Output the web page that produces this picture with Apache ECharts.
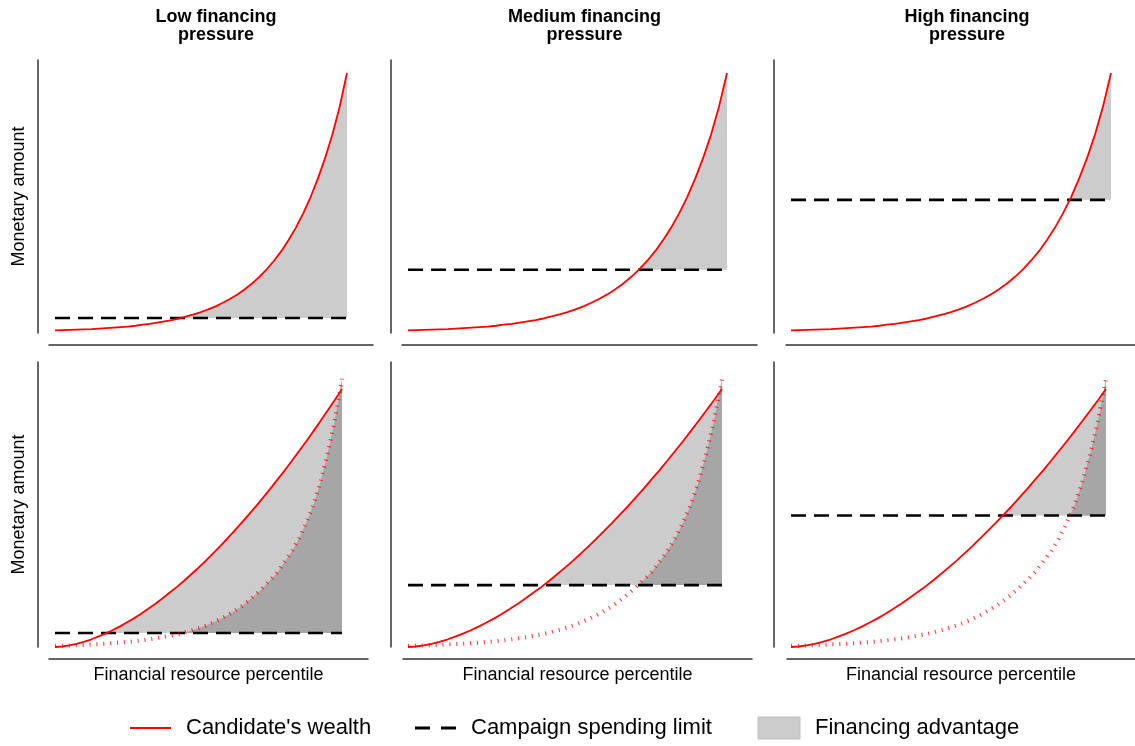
<!DOCTYPE html>
<html><head><meta charset="utf-8">
<script src="https://cdn.jsdelivr.net/npm/echarts@6/dist/echarts.min.js"></script>
<style>html,body{margin:0;padding:0;background:#fff}#c{width:1135px;height:746px}</style>
</head><body><div id="c"></div>
<script>
// ---------------- data ----------------
const percentile = [0, 0.025, 0.05, 0.075, 0.1, 0.125, 0.15, 0.175, 0.2, 0.225, 0.25, 0.275, 0.3, 0.325, 0.35, 0.375, 0.4, 0.425, 0.45, 0.475, 0.5, 0.525, 0.55, 0.575, 0.6, 0.625, 0.65, 0.675, 0.7, 0.725, 0.75, 0.775, 0.8, 0.825, 0.85, 0.875, 0.9, 0.925, 0.95, 0.975, 1];
// top row: candidate's wealth (steep curve)
const wealthTop = [0.006, 0.007, 0.008, 0.009, 0.010, 0.011, 0.013, 0.015, 0.017, 0.019, 0.021, 0.024, 0.028, 0.031, 0.036, 0.041, 0.046, 0.052, 0.060, 0.068, 0.077, 0.087, 0.099, 0.113, 0.128, 0.145, 0.165, 0.187, 0.213, 0.242, 0.275, 0.312, 0.355, 0.403, 0.458, 0.520, 0.591, 0.671, 0.762, 0.870, 1.0];
// bottom row: candidate's wealth (flatter curve)
const wealthBottom = [0, 0.002, 0.006, 0.012, 0.020, 0.029, 0.040, 0.052, 0.065, 0.079, 0.095, 0.111, 0.129, 0.148, 0.168, 0.189, 0.211, 0.233, 0.257, 0.282, 0.308, 0.334, 0.362, 0.390, 0.420, 0.450, 0.481, 0.513, 0.545, 0.579, 0.613, 0.649, 0.684, 0.721, 0.759, 0.797, 0.836, 0.876, 0.917, 0.958, 1.0];
// bottom row: original wealth distribution (dotted)
const wealthBaseline = [0.004, 0.005, 0.006, 0.007, 0.008, 0.010, 0.011, 0.013, 0.015, 0.017, 0.019, 0.022, 0.025, 0.029, 0.033, 0.038, 0.043, 0.049, 0.056, 0.064, 0.073, 0.083, 0.095, 0.108, 0.123, 0.140, 0.158, 0.180, 0.204, 0.231, 0.26, 0.29, 0.33, 0.37, 0.42, 0.48, 0.55, 0.64, 0.75, 0.88, 1.04];
const spendingLimits = [0.054, 0.24, 0.51];
const panelTitles = ['Low financing\npressure', 'Medium financing\npressure', 'High financing\npressure'];
const yAxisLabel = 'Monetary amount';
const xAxisLabel = 'Financial resource percentile';
const legendLabels = ["Candidate's wealth", 'Campaign spending limit', 'Financing advantage'];

// ---------------- layout / style ----------------
const FONT = "'Liberation Sans', Arial, Helvetica, sans-serif";
const RED = '#ff0000';
const LIGHT = '#cccccc';
const DARK = '#a6a6a6';
const AXIS = '#333333';
const panels = [
  {row: 0, col: 0, left: 49, right: 373, d0: 55, d1: 347, yOff: 11},
  {row: 0, col: 1, left: 402, right: 757, d0: 408, d1: 727, yOff: 11},
  {row: 0, col: 2, left: 786, right: 1135, d0: 791, d1: 1111, yOff: 12},
  {row: 1, col: 0, left: 49, right: 368, d0: 55, d1: 342, yOff: 11},
  {row: 1, col: 1, left: 403, right: 752, d0: 408, d1: 722, yOff: 12},
  {row: 1, col: 2, left: 787, right: 1135, d0: 791, d1: 1106, yOff: 13}
];
const rows = [
  {top: 60, height: 273, min: -0.004, max: 1.05},
  {top: 362, height: 285, min: 0, max: 1.105}
];

function bandPolygons(xs, upper, lower) {
  const lo = i => Array.isArray(lower) ? lower[i] : lower;
  const polys = []; let cur = null;
  for (let i = 0; i < xs.length; i++) {
    const d = upper[i] - lo(i);
    if (i > 0) {
      const dp = upper[i - 1] - lo(i - 1);
      if ((dp > 0) !== (d > 0) && dp !== d) {
        const t = dp / (dp - d);
        const xc = xs[i - 1] + t * (xs[i] - xs[i - 1]);
        const yc = lo(i - 1) + t * (lo(i) - lo(i - 1));
        if (cur) { cur.push({x: xc, u: yc, l: yc}); polys.push(cur); cur = null; }
        else { cur = [{x: xc, u: yc, l: yc}]; }
      }
    }
    if (d > 0) { if (!cur) cur = []; cur.push({x: xs[i], u: upper[i], l: lo(i)}); }
  }
  if (cur) polys.push(cur);
  return polys;
}

function bandSeries(idx, upper, lower, color, z) {
  return {
    type: 'custom', xAxisIndex: idx, yAxisIndex: idx, z: z, silent: true,
    data: [[0.5, 0.5]],
    renderItem: function (params, api) {
      const polys = bandPolygons(percentile, upper, lower);
      return {
        type: 'group',
        children: polys.map(p => {
          const pts = [];
          p.forEach(q => pts.push(api.coord([q.x, q.u])));
          for (let k = p.length - 1; k >= 0; k--) pts.push(api.coord([p[k].x, p[k].l]));
          return {type: 'polygon', shape: {points: pts}, style: {fill: color, stroke: null}};
        })
      };
    }
  };
}

const pairs = arr => percentile.map((x, i) => [x, arr[i]]);

const grid = [], xAxis = [], yAxis = [], series = [];
panels.forEach((p, idx) => {
  const r = rows[p.row];
  const s = p.d1 - p.d0;
  grid.push({left: p.left, width: p.right - p.left, top: r.top, height: r.height, containLabel: false});
  xAxis.push({
    type: 'value', gridIndex: idx, min: -(p.d0 - p.left) / s, max: (p.right - p.d0) / s,
    offset: 12,
    axisLine: {show: true, onZero: false, lineStyle: {color: AXIS, width: 1.5}},
    axisTick: {show: false}, axisLabel: {show: false}, splitLine: {show: false},
    name: p.row === 1 ? xAxisLabel : '', nameLocation: 'middle', nameGap: 7,
    nameTextStyle: {fontFamily: FONT, fontSize: 18, color: '#000', verticalAlign: 'top'}
  });
  yAxis.push({
    type: 'value', gridIndex: idx, min: r.min, max: r.max, offset: p.yOff,
    axisLine: {show: true, onZero: false, lineStyle: {color: AXIS, width: 1.5}},
    axisTick: {show: false}, axisLabel: {show: false}, splitLine: {show: false},
    name: p.col === 0 ? yAxisLabel : '', nameLocation: 'middle', nameGap: 10, nameRotate: 90,
    nameTextStyle: {fontFamily: FONT, fontSize: 18, color: '#000'}
  });
  const lim = spendingLimits[p.col];
  if (p.row === 0) {
    series.push(bandSeries(idx, wealthTop, lim, LIGHT, 1));
  } else {
    series.push(bandSeries(idx, wealthBottom, lim, LIGHT, 1));
    series.push(bandSeries(idx, wealthBaseline, lim, DARK, 2));
  }
  series.push({
    type: 'line', xAxisIndex: idx, yAxisIndex: idx, z: 4, showSymbol: false, silent: true,
    data: [[0, lim], [1, lim]],
    lineStyle: {color: '#000', width: 2.6, type: [15, 8]}
  });
  if (p.row === 1) {
    series.push({
      type: 'line', xAxisIndex: idx, yAxisIndex: idx, z: 5, showSymbol: false, silent: true,
      data: pairs(wealthBaseline),
      lineStyle: {color: 'rgba(255,0,0,0.75)', width: 4, type: [1.1, 5.8]}
    });
  }
  series.push({
    type: 'line', xAxisIndex: idx, yAxisIndex: idx, z: 6, showSymbol: false, silent: true,
    data: pairs(p.row === 0 ? wealthTop : wealthBottom),
    lineStyle: {color: RED, width: 1.8}
  });
});

const titleCenters = [211, 579.5, 962];
const title = panelTitles.map((t, i) => ({
  text: t, left: titleCenters[i], top: 3, textAlign: 'center',
  textStyle: {fontFamily: FONT, fontSize: 18, fontWeight: 'bold', color: '#000', lineHeight: 18}
}));

const LY = 728;
const graphic = [
  {type: 'line', shape: {x1: 130, y1: LY, x2: 171, y2: LY}, style: {stroke: RED, lineWidth: 2}},
  {type: 'text', x: 186, y: LY, style: {text: legendLabels[0], fontFamily: FONT, fontSize: 22, fill: '#000', verticalAlign: 'middle'}},
  {type: 'line', shape: {x1: 415, y1: LY, x2: 456, y2: LY}, style: {stroke: '#000', lineWidth: 3, lineDash: [15, 11]}},
  {type: 'text', x: 471, y: LY, style: {text: legendLabels[1], fontFamily: FONT, fontSize: 22, fill: '#000', verticalAlign: 'middle'}},
  {type: 'rect', shape: {x: 758, y: 717, width: 42, height: 22}, style: {fill: LIGHT, stroke: '#c0c0c0', lineWidth: 1}},
  {type: 'text', x: 815, y: LY, style: {text: legendLabels[2], fontFamily: FONT, fontSize: 22, fill: '#000', verticalAlign: 'middle'}}
];

const chart = echarts.init(document.getElementById('c'), null, {renderer: 'canvas'});
chart.setOption({
  animation: false, backgroundColor: '#ffffff',
  title: title, grid: grid, xAxis: xAxis, yAxis: yAxis, series: series, graphic: graphic
});
</script>
</body></html>
